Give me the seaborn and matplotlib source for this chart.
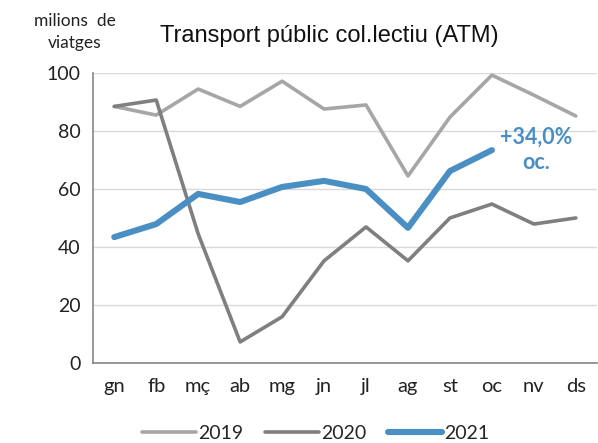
import numpy as np
import pandas as pd
import matplotlib.pyplot as plt
import seaborn as sns
from matplotlib.ticker import FixedLocator
from matplotlib.lines import Line2D

months = ["gn", "fb", "mç", "ab", "mg", "jn", "jl", "ag", "st", "oc", "nv", "ds"]
v2019 = [88.5, 85.5, 94.5, 88.5, 97.2, 87.6, 89.0, 64.5, 84.8, 99.3, 92.4, 85.2]
v2020 = [88.5, 90.7, 44.5, 7.2, 15.9, 35.2, 46.9, 35.2, 50.0, 54.8, 47.9, 50.0]
v2021 = [43.4, 47.9, 58.3, 55.5, 60.7, 62.8, 60.0, 46.6, 66.2, 73.4]

rows = []
for year, vals in [("2019", v2019), ("2020", v2020), ("2021", v2021)]:
    for i, v in enumerate(vals):
        rows.append({"mes": i, "valor": v, "any": year})
df = pd.DataFrame(rows)

sns.set_theme(style="white")
plt.rcParams['font.family'] = ['Lato', 'DejaVu Sans']

fig = plt.figure(figsize=(5.98, 4.43), dpi=100)
ax = fig.add_axes([0.156, 0.181, 0.842, 0.654])

palette = {"2019": "#a6a6a6", "2020": "#7f7f7f", "2021": "#4a8fc4"}
sizes = {"2019": 2.6, "2020": 2.6, "2021": 4.4}
sns.lineplot(data=df, x="mes", y="valor", hue="any", size="any",
             sizes=sizes, palette=palette, sort=False, ax=ax, legend=False)

ax.set_xlim(-0.5, 11.5)
ax.set_ylim(0, 100)
ax.set_yticks([0, 20, 40, 60, 80, 100])
ax.yaxis.grid(True, color="#d9d9d9", linewidth=1)
ax.set_xticks(range(12))
ax.set_xticklabels(months, fontsize=14.5, color="#222222")
ax.tick_params(axis="x", which="major", length=0, pad=11)
ax.xaxis.set_minor_locator(FixedLocator(np.arange(-0.5, 12, 1)))
ax.tick_params(axis="x", which="minor", length=6, color="#868686", width=1)
ax.tick_params(axis="y", length=5, color="#868686", width=1, labelsize=14,
               labelcolor="#222222", pad=4)
ax.set_xlabel("")
ax.set_ylabel("")
for s in ["top", "right"]:
    ax.spines[s].set_visible(False)
for s in ["left", "bottom"]:
    ax.spines[s].set_color("#868686")
    ax.spines[s].set_linewidth(1.2)

fig.text(0.125, 0.928, "milions  de\nviatges", ha="center", va="center",
         fontsize=12.5, color="#222222", linespacing=1.5)
fig.text(0.55, 0.918, "Transport públic col.lectiu (ATM)", ha="center", va="center",
         fontsize=17, color="#111111", family=["Liberation Sans", "DejaVu Sans"])

ax.annotate("+34,0%\noc.", xy=(9, v2021[9]), xytext=(10.05, 73.5), ha="center", va="center",
            fontsize=15.5, fontweight="bold", color="#4a8fc4", linespacing=1.25)

handles = [Line2D([], [], color=palette[k], linewidth=sizes[k]) for k in ["2019", "2020", "2021"]]
fig.legend(handles, ["2019", "2020", "2021"], loc="center", bbox_to_anchor=(0.528, 0.022),
           ncol=3, frameon=False, fontsize=14, handlelength=2.8, handletextpad=0.1,
           columnspacing=1.1)

fig.savefig("out.png", dpi=100)
